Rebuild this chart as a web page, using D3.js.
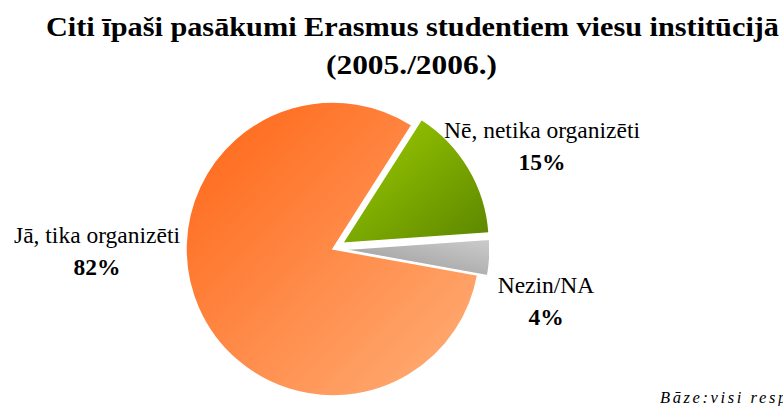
<!DOCTYPE html>
<meta charset="utf-8">
<style>
  body {
    margin: 0;
    background: #fff;
  }
</style>
<body>
  <script src="https://d3js.org/d3.v7.min.js"></script>
  <div id="chart"></div>
  <script>
    const categories = ["Nē, netika organizēti", "Nezin/NA", "Jā, tika organizēti"];
    const values = [15, 4, 82];
    const percentLabels = ["15%", "4%", "82%"];
    const explodeBy = [11, 10, 0];

    const width = 783;
    const height = 406;
    const cx = 333, cy = 249;
    const radius = 147;
    const serif = '"Liberation Serif"';

    // hand placed label spots (Excel style)
    const labelSpots = [
      {x: 542, y: 138},
      {x: 546, y: 293},
      {x: 97, y: 243}
    ];

    const gradients = [
      {id: "gNe", x1: 0, y1: 0, x2: 1, y2: 1, stops: ["#9fcf00", "#5b8500"]},
      {id: "gNezin", x1: 1, y1: 0, x2: 0, y2: 1, stops: ["#cccccc", "#969696"]},
      {id: "gJa", x1: 0, y1: 0, x2: 1, y2: 1, stops: ["#ff6414", "#ffb07a"]}
    ];

    const svg = d3.select("#chart")
      .append("svg")
      .attr("width", width)
      .attr("height", height)
      .style("font-family", serif);

    const defs = svg.append("defs");
    gradients.forEach(g => {
      const lg = defs.append("linearGradient")
        .attr("id", g.id)
        .attr("x1", g.x1).attr("y1", g.y1)
        .attr("x2", g.x2).attr("y2", g.y2);
      lg.append("stop").attr("offset", 0).attr("stop-color", g.stops[0]);
      lg.append("stop").attr("offset", 1).attr("stop-color", g.stops[1]);
    });

    defs.append("clipPath")
      .attr("id", "plotClip")
      .append("rect")
      .attr("x", 0).attr("y", 90)
      .attr("width", 489).attr("height", height - 90);

    // Title
    svg.append("text")
      .attr("x", 46).attr("y", 36)
      .style("font-family", serif)
      .attr("font-size", 28)
      .attr("font-weight", "bold")
      .attr("textLength", 733)
      .attr("lengthAdjust", "spacingAndGlyphs")
      .text("Citi īpaši pasākumi Erasmus studentiem viesu institūcijā");
    svg.append("text")
      .attr("x", 326).attr("y", 74)
      .style("font-family", serif)
      .attr("font-size", 27)
      .attr("font-weight", "bold")
      .attr("textLength", 171)
      .attr("lengthAdjust", "spacingAndGlyphs")
      .text("(2005./2006.)");

    const start = 32.5 * Math.PI / 180;
    const pie = d3.pie()
      .sort(null)
      .startAngle(start)
      .endAngle(start + 2 * Math.PI);

    const arc = d3.arc()
      .innerRadius(0)
      .outerRadius(radius);

    const arcs = pie(values);

    svg.append("g")
      .attr("clip-path", "url(#plotClip)")
      .append("g")
      .attr("transform", `translate(${cx},${cy})`)
      .selectAll("path")
      .data(arcs)
      .join("path")
      .attr("transform", (d, i) => {
        const a = (d.startAngle + d.endAngle) / 2;
        const off = explodeBy[i];
        return `translate(${off * Math.sin(a)},${-off * Math.cos(a)})`;
      })
      .attr("d", arc)
      .attr("fill", (d, i) => `url(#${gradients[i].id})`)
      .attr("stroke", "#fff")
      .attr("stroke-width", 1.5);

    // Data labels
    const labels = svg.append("g")
      .selectAll("g")
      .data(arcs)
      .join("g")
      .attr("transform", (d, i) => `translate(${labelSpots[i].x},${labelSpots[i].y})`);

    labels.append("text")
      .attr("text-anchor", "middle")
      .style("font-family", serif)
      .attr("font-size", 23.5)
      .text((d, i) => categories[i]);

    labels.append("text")
      .attr("text-anchor", "middle")
      .attr("y", 32)
      .style("font-family", serif)
      .attr("font-size", 23.5)
      .attr("font-weight", "bold")
      .text((d, i) => percentLabels[i]);

    // Footnote (cut off at the right edge, as in the source)
    svg.append("text")
      .attr("x", 660).attr("y", 403)
      .style("font-family", serif)
      .attr("font-size", 16.5)
      .attr("font-style", "italic")
      .attr("letter-spacing", 2.6)
      .text("Bāze:visi respondenti");
  </script>
</body>
